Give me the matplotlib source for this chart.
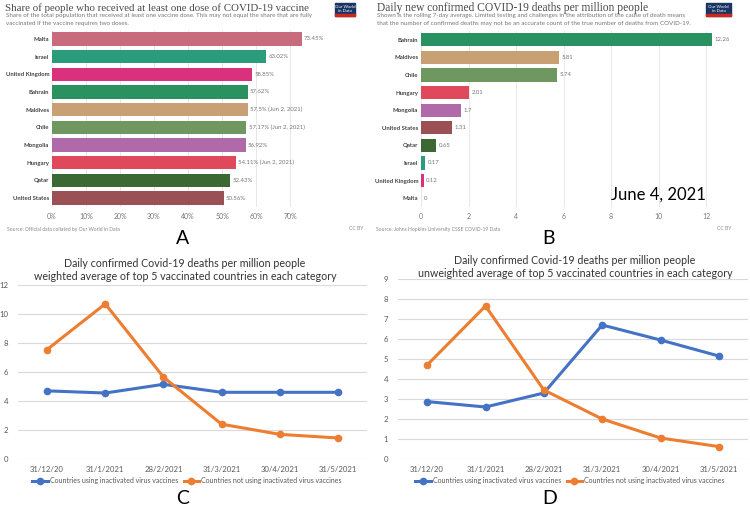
import matplotlib
matplotlib.use("Agg")
import matplotlib.pyplot as plt
from matplotlib.patches import Rectangle

W, H = 750, 507

# --- panel A : share with at least one dose
vax_countries = ["Malta", "Israel", "United Kingdom", "Bahrain", "Maldives",
                 "Chile", "Mongolia", "Hungary", "Qatar", "United States"]
vax_share = [73.45, 63.02, 58.85, 57.62, 57.5, 57.17, 56.92, 54.11, 52.43, 50.56]
vax_labels = ["73.45%", "63.02%", "58.85%", "57.62%", "57.5% (Jun 2, 2021)",
              "57.17% (Jun 2, 2021)", "56.92%", "54.11% (Jun 2, 2021)", "52.43%", "50.56%"]

# --- panel B : daily deaths per million, June 4 2021
death_countries = ["Bahrain", "Maldives", "Chile", "Hungary", "Mongolia",
                   "United States", "Qatar", "Israel", "United Kingdom", "Malta"]
death_rate = [12.26, 5.81, 5.74, 2.01, 1.7, 1.31, 0.65, 0.17, 0.12, 0]
death_labels = ["12.26", "5.81", "5.74", "2.01", "1.7", "1.31", "0.65", "0.17", "0.12", "0"]

country_colors = {
    "Malta": "#c86b7c", "Israel": "#2a9c7b", "United Kingdom": "#d9317b",
    "Bahrain": "#2a9160", "Maldives": "#c9a073", "Chile": "#6e985f",
    "Mongolia": "#b16aa9", "Hungary": "#e0485b", "Qatar": "#3b6833",
    "United States": "#9b5056",
}

# --- panels C / D : monthly averages
dates = ["31/12/20", "31/1/2021", "28/2/2021", "31/3/2021", "30/4/2021", "31/5/2021"]
c_inactivated = [4.7, 4.55, 5.15, 4.6, 4.6, 4.6]
c_other = [7.55, 10.7, 5.65, 2.4, 1.7, 1.45]
d_inactivated = [2.87, 2.6, 3.3, 6.7, 5.95, 5.15]
d_other = [4.7, 7.65, 3.45, 2.0, 1.05, 0.62]

SANS = "Lato"
SERIF = "Liberation Serif"
BLUE = "#4472c4"
ORANGE = "#ed7d31"

fig = plt.figure(figsize=(W / 100, H / 100), dpi=100)


def px_axes(x0, y0, x1, y1):
    return fig.add_axes([x0 / W, 1 - y1 / H, (x1 - x0) / W, (y1 - y0) / H])


def px_text(x, y, s, **kw):
    return fig.text(x / W, 1 - y / H, s, **kw)


def owid_logo(x0, y0, x1, y1):
    fig.patches.append(Rectangle((x0 / W, 1 - y1 / H), (x1 - x0) / W, (y1 - y0) / H,
                                 transform=fig.transFigure, color="#1a3563", zorder=5))
    fig.patches.append(Rectangle((x0 / W, 1 - y1 / H), (x1 - x0) / W, 1.5 / H,
                                 transform=fig.transFigure, color="#ce261e", zorder=6))
    px_text((x0 + x1) / 2, (y0 + y1) / 2 - 0.5, "Our World\nin Data", ha="center", va="center",
            color="white", fontsize=3.2, family=SANS, linespacing=1.0, zorder=7)


def owid_bars(ax, names, values, labels, xmax, ticks, ticklabels):
    cols = [country_colors[n] for n in names]
    ax.barh(range(len(names)), values, height=0.76, color=cols, zorder=2)
    ax.set_ylim(len(names) - 0.5, -0.5)
    ax.set_xlim(0, xmax)
    ax.set_yticks(range(len(names)))
    ax.set_yticklabels(names, fontsize=4.3, fontweight="bold", color="#444444", family=SANS)
    ax.set_xticks(ticks)
    ax.set_xticklabels(ticklabels, fontsize=5, color="#777777", family=SANS)
    ax.tick_params(length=0, pad=2)
    ax.tick_params(axis="x", pad=4)
    ax.grid(axis="x", color="#e4e4e4", linewidth=0.6, zorder=0)
    for s in ax.spines.values():
        s.set_visible(False)
    for i, (v, lab) in enumerate(zip(values, labels)):
        ax.text(v + xmax * 0.008, i, lab, va="center", ha="left", fontsize=4.3,
                color="#777777", family=SANS)


# ---------- A
px_text(5, 8, "Share of people who received at least one dose of COVID-19 vaccine",
        family=SERIF, fontsize=7.8, color="#4a4a4a", va="center")
px_text(6, 16, "Share of the total population that received at least one vaccine dose. "
        "This may not equal the share that are fully", family=SANS, fontsize=4.5,
        color="#777777", va="center")
px_text(6, 23, "vaccinated if the vaccine requires two doses.", family=SANS, fontsize=4.5,
        color="#777777", va="center")
owid_logo(335, 3, 355, 16)
axA = px_axes(52, 30, 324, 207)
owid_bars(axA, vax_countries, vax_share, vax_labels, 80,
          range(0, 80, 10), [f"{t}%" for t in range(0, 80, 10)])
px_text(7, 229, "Source: Official data collated by Our World in Data", family=SANS,
        fontsize=3.6, color="#888888", va="center")
px_text(363, 229, "CC BY", family=SANS, fontsize=3.6, color="#888888", va="center", ha="right")
px_text(183, 239, "A", family=SANS, fontsize=14, va="center", ha="center", color="black")

# ---------- B
px_text(377, 8, "Daily new confirmed COVID-19 deaths per million people",
        family=SERIF, fontsize=8.3, color="#4a4a4a", va="center")
px_text(377, 16, "Shown is the rolling 7-day average. Limited testing and challenges in the "
        "attribution of the cause of death means", family=SANS, fontsize=4.5,
        color="#777777", va="center")
px_text(377, 23, "that the number of confirmed deaths may not be an accurate count of the "
        "true number of deaths from COVID-19.", family=SANS, fontsize=4.5,
        color="#777777", va="center")
owid_logo(706, 3, 731, 16)
axB = px_axes(421, 31, 730, 207)
owid_bars(axB, death_countries, death_rate, death_labels, 13,
          range(0, 13, 2), [str(t) for t in range(0, 13, 2)])
px_text(376, 229, "Source: Johns Hopkins University CSSE COVID-19 Data", family=SANS,
        fontsize=3.6, color="#888888", va="center")
px_text(731, 229, "CC BY", family=SANS, fontsize=3.6, color="#888888", va="center", ha="right")
px_text(658, 195, "June 4, 2021", family=SANS, fontsize=12, va="center", ha="center",
        color="black")
px_text(548, 239, "B", family=SANS, fontsize=14, va="center", ha="center", color="black")


# ---------- C and D
def line_panel(rect, inact, other, ymax, yticks, title2, title_x, title_y, legend_x):
    ax = px_axes(*rect)
    x = range(len(dates))
    ax.plot(x, inact, color=BLUE, lw=2.2, marker="o", ms=4.5,
            label="Countries using inactivated virus vaccines", zorder=3)
    ax.plot(x, other, color=ORANGE, lw=2.2, marker="o", ms=4.5,
            label="Countries not using inactivated virus vaccines", zorder=3)
    ax.set_xlim(-0.5, len(dates) - 0.5)
    ax.set_ylim(0, ymax)
    ax.set_yticks(yticks)
    ax.set_xticks(list(x))
    ax.set_xticklabels(dates, fontsize=5.6, color="#595959", family=SANS)
    ax.tick_params(length=0)
    ax.tick_params(axis="x", pad=5)
    ax.tick_params(axis="y", pad=7, labelsize=5.6, labelcolor="#595959")
    for lab in ax.get_yticklabels():
        lab.set_family(SANS)
    ax.grid(axis="y", color="#d9d9d9", linewidth=0.8, zorder=0)
    for s in ax.spines.values():
        s.set_visible(False)
    px_text(title_x, title_y, "Daily confirmed Covid-19 deaths per million people\n" + title2,
            fontsize=7.7, color="#333333", family=SANS, linespacing=1.3,
            ha="center", va="center")
    fig.legend(*ax.get_legend_handles_labels(), loc="center",
               bbox_to_anchor=(legend_x / W, 1 - 481 / H), ncol=2, frameon=False,
               handlelength=2.2, handletextpad=0.3, columnspacing=0.8,
               prop={"family": SANS, "size": 5}, labelcolor="#595959")
    return ax


axC = line_panel((18, 285, 367, 459), c_inactivated, c_other, 12, range(0, 13, 2),
                 "weighted average of top 5 vaccinated countries in each category",
                 185, 270, 187)
px_text(183, 498, "C", family=SANS, fontsize=14, va="center", ha="center", color="black")

axD = line_panel((398, 279, 748, 459), d_inactivated, d_other, 9, range(0, 10),
                 "unweighted average of top 5 vaccinated countries in each category",
                 575, 267, 570)
px_text(550, 498, "D", family=SANS, fontsize=14, va="center", ha="center", color="black")

fig.savefig("out.png", dpi=100)
